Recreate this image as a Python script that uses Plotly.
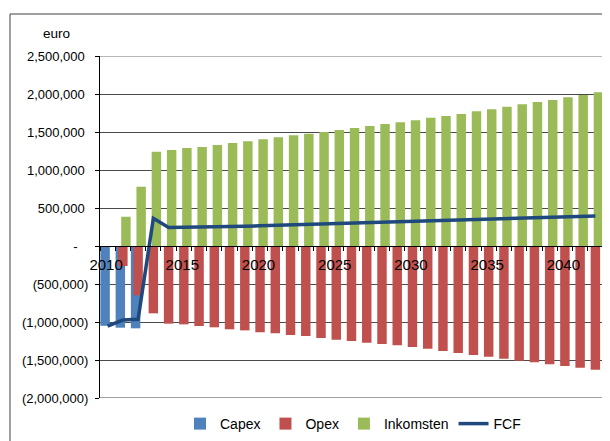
import plotly.graph_objects as go

years = list(range(2010, 2043))
capex = [-1050000, -1075000, -1083000] + [0] * 30
opex = [0, -263000, -649000, -886000, -1022000, -1031000, -1053000, -1070000, -1096000,
        -1110000, -1136000, -1149000, -1171000, -1184000, -1211000, -1233000, -1250000,
        -1272000, -1289000, -1305000, -1329000, -1351000, -1382000, -1408000, -1434000,
        -1456000, -1483000, -1509000, -1531000, -1557000, -1579000, -1601000, -1627000]
inkomsten = [0, 385000, 780000, 1241000, 1263000, 1289000, 1303000, 1329000, 1355000,
             1377000, 1404000, 1430000, 1457000, 1478000, 1500000, 1526000, 1553000,
             1579000, 1605000, 1628000, 1654000, 1689000, 1711000, 1737000, 1772000,
             1798000, 1833000, 1864000, 1895000, 1921000, 1956000, 1987000, 2022000]
fcf = [-1055000, -975000, -965000, 364000, 242000, 244000, 248000, 252000, 256000,
       261000, 266000, 272000, 278000, 283000, 288000, 294000, 300000, 306000, 312000,
       318000, 323000, 328000, 333000, 338000, 343000, 348000, 353000, 358000, 364000,
       370000, 378000, 386000, 395000]

x_ticklabels = [2010, 2015, 2020, 2025, 2030, 2035, 2040]
y_tickvals = [2500000, 2000000, 1500000, 1000000, 500000, 0,
              -500000, -1000000, -1500000, -2000000]
NB = "\u00a0"
y_ticktext = ["2,500,000" + NB, "2,000,000" + NB, "1,500,000" + NB, "1,000,000" + NB,
              "500,000" + NB, "-" + NB + NB + NB, "(500,000)", "(1,000,000)",
              "(1,500,000)", "(2,000,000)"]

FONT = "Liberation Sans, Arial, sans-serif"
W = 0.62
Y_MIN, Y_MAX = -2000000, 2500000

# page has an 8px body margin; the figure is sized so it ends at the window edge
OFF = 8
FIG_W, FIG_H = 610 - OFF, 441 - OFF
PL, PR, PT, PB = 100, 603, 56, 398  # plot area in window pixels

fig = go.Figure()
fig.add_trace(go.Bar(x=years, y=capex, name="Capex", marker_color="#4F81BD",
                     width=W, offset=-0.475, marker_line_width=0))
fig.add_trace(go.Bar(x=years, y=opex, name="Opex", marker_color="#C0504D",
                     width=W, offset=-0.31, marker_line_width=0))
fig.add_trace(go.Bar(x=years, y=inkomsten, name="Inkomsten", marker_color="#9BBB59",
                     width=W, offset=-0.11, marker_line_width=0))
fig.add_trace(go.Scatter(x=years, y=fcf, name="FCF", mode="lines",
                         line=dict(color="#1F497D", width=3.5)))

pw, ph = PR - PL, PB - PT
fig.update_layout(
    width=FIG_W, height=FIG_H,
    margin=dict(l=PL - OFF, r=610 - PR, t=PT - OFF, b=441 - PB, autoexpand=False),
    barmode="overlay",
    plot_bgcolor="white", paper_bgcolor="white",
    font=dict(family=FONT, size=14, color="black"),
    showlegend=True,
    legend=dict(orientation="h", xref="container", yref="container",
                x=(353 - OFF) / FIG_W, xanchor="center",
                y=(441 - 424) / FIG_H, yanchor="middle",
                font=dict(size=14), itemwidth=30, traceorder="normal",
                bgcolor="rgba(0,0,0,0)"),
    xaxis=dict(range=[2009.5, 2042.5], anchor="free", position=2 / 4.5,
               tickmode="array", tickvals=[v - 0.1 for v in x_ticklabels],
               ticktext=[str(v) for v in x_ticklabels],
               ticks="", showgrid=False, zeroline=False, automargin=False,
               showline=True, linecolor="black", linewidth=1,
               tickfont=dict(size=15), ticklabelstandoff=5,
               minor=dict(tickmode="array",
                          tickvals=[y + 0.5 for y in range(2009, 2043)],
                          ticks="outside", ticklen=4, tickcolor="black",
                          showgrid=False)),
    yaxis=dict(range=[Y_MIN, Y_MAX], tickmode="array", tickvals=y_tickvals,
               ticktext=y_ticktext, showgrid=True, gridcolor="#4a4a4a", gridwidth=1,
               zeroline=False, showline=True, linecolor="black", linewidth=1,
               automargin=False,
               ticks="outside", ticklen=4, tickcolor="black",
               tickfont=dict(size=13), ticklabelstandoff=4),
    annotations=[dict(text="euro", xref="paper", yref="paper",
                      x=(56 - PL) / pw, y=(PB - 33) / ph,
                      xanchor="center", yanchor="middle", showarrow=False,
                      font=dict(size=13.5))],
    shapes=[dict(type="rect", xref="paper", yref="paper",
                 x0=(10 - PL) / pw, x1=(604 - PL) / pw,
                 y0=-0.3, y1=(PB - 14) / ph,
                 line=dict(color="#404040", width=1), layer="below"),
            dict(type="line", xref="paper", yref="y", x0=0, x1=1,
                 y0=Y_MAX, y1=Y_MAX, line=dict(color="#707070", width=1), layer="above"),
            dict(type="line", xref="paper", yref="y", x0=0, x1=1,
                 y0=Y_MIN, y1=Y_MIN, line=dict(color="#404040", width=1), layer="above")],
)

fig.write_html("out.html")
